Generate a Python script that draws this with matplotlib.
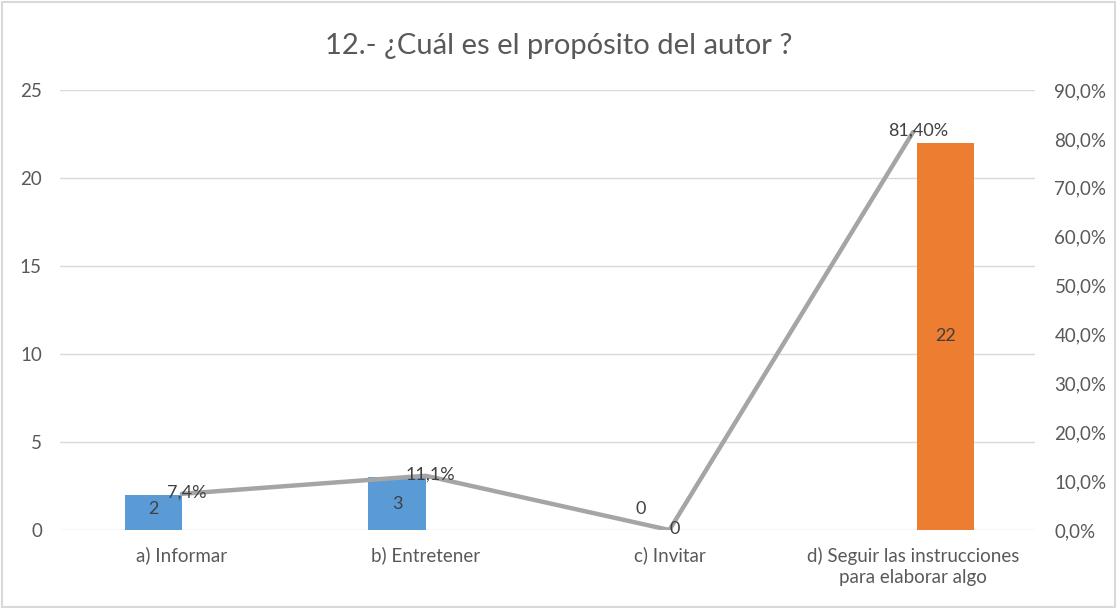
import numpy as np
import matplotlib.pyplot as plt
from matplotlib.patches import Rectangle

plt.rcParams['font.family'] = ['Lato', 'DejaVu Sans']

# Datos
categorias = ["a) Informar", "b) Entretener", "c) Invitar",
              "d) Seguir las instrucciones\npara elaborar algo"]
serie_azul = [2, 3, 0, np.nan]
serie_naranja = [np.nan, np.nan, np.nan, 22]
porcentajes = [7.4, 11.1, 0.0, 81.4]
etiquetas_pct = ["7,4%", "11,1%", "0", "81,40%"]

gris_txt = "#595959"
x = np.arange(len(categorias))
ancho = 0.235
hueco = 0.016

fig = plt.figure(figsize=(11.17, 6.09), dpi=100)
ax = fig.add_axes([0.0537, 0.1297, 0.8729, 0.7225])
ax2 = ax.twinx()

ax.bar(x - ancho / 2, serie_azul, ancho, color="#5b9bd5", zorder=2)
ax.bar(x + ancho / 2 + hueco, serie_naranja, ancho, color="#ed7d31", zorder=2)

# Etiquetas de las barras
for xi, v in zip(x, serie_azul):
    if not np.isnan(v):
        ax.text(xi - ancho / 2, max(v / 2, 1.2), f"{v:g}", ha="center", va="center",
                fontsize=13, color="#404040", zorder=5)
for xi, v in zip(x, serie_naranja):
    if not np.isnan(v):
        ax.text(xi + ancho / 2 + hueco, v / 2, f"{v:g}", ha="center", va="center",
                fontsize=13, color="#404040", zorder=5)

# Línea de porcentajes
ax2.plot(x, porcentajes, color="#a5a5a5", lw=3.2, solid_capstyle="round", zorder=3)
for xi, p, t in zip(x, porcentajes, etiquetas_pct):
    ax2.text(xi + 0.02, p + 0.2, t, ha="center", va="center", fontsize=13,
             color="#404040", zorder=5)

ax.set_xlim(-0.5, 3.5)
ax.set_ylim(0, 25)
ax.set_yticks(range(0, 26, 5))
ax2.set_ylim(0, 90)
ax2.set_yticks(range(0, 91, 10))
ax2.set_yticklabels([f"{v},0%" for v in range(0, 91, 10)])

ax.set_xticks(x)
ax.set_xticklabels(categorias, linespacing=1.3)
ax.grid(axis="y", color="#d9d9d9", lw=1, zorder=0)
ax.set_axisbelow(True)

for a in (ax, ax2):
    for s in a.spines.values():
        s.set_visible(False)
    a.tick_params(length=0, colors=gris_txt, labelsize=13.5)
ax.tick_params(axis="y", pad=13)
ax.tick_params(axis="x", pad=12)
ax2.tick_params(axis="y", pad=14)
ax2.set_zorder(ax.get_zorder() + 1)
ax2.patch.set_visible(False)

fig.text(0.5, 0.925, "12.- ¿Cuál es el propósito del autor ?", ha="center",
         va="center", fontsize=21, color=gris_txt)

fig.patches.append(Rectangle((0.002, 0.003), 0.996, 0.994, transform=fig.transFigure,
                             fill=False, edgecolor="#d9d9d9", lw=1.5))

fig.savefig("out.png", dpi=100)
